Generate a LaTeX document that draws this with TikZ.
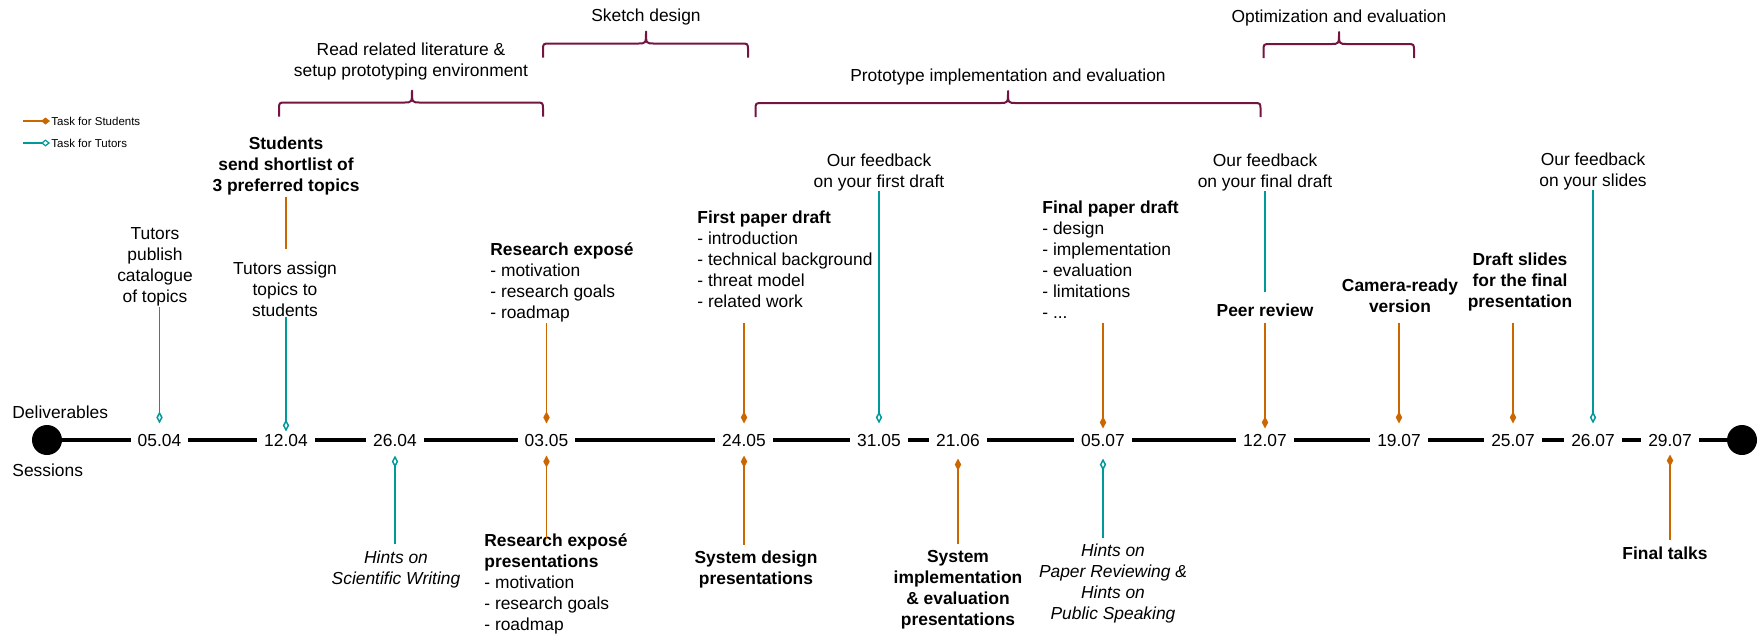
\documentclass[tikz,border=0pt]{standalone}
\usepackage{fontspec}
\setmainfont{Liberation Sans}
\usetikzlibrary{arrows.meta, positioning}

\definecolor{studentorange}{RGB}{204,102,0}
\definecolor{tutorteal}{RGB}{0,153,153}
\definecolor{phasemaroon}{RGB}{115,20,65}

\newcommand{\tlfont}{\fontsize{8.7}{10.5}\selectfont}

% curly brace over a phase: left x, right x, y of the bar, x of the tip
\newcommand{\phasebrace}[4]{%
  \draw[bracestyle] (#1,#3+14) -- (#1,#3+7) .. controls (#1,#3) .. (#1+7,#3)
    -- (#4-8,#3) .. controls (#4,#3) .. (#4,#3-12)
    .. controls (#4,#3) .. (#4+8,#3) -- (#2-7,#3) .. controls (#2,#3) .. (#2,#3+7) -- (#2,#3+14);
}

\tikzset{
  every node/.style={font=\tlfont, inner sep=3pt, yshift=-1pt},
  txt/.style={align=center},
  boldtxt/.style={align=center, font=\tlfont\bfseries},
  hinttxt/.style={align=center, font=\tlfont\itshape},
  listtxt/.style={align=left, anchor=west},
  datebox/.style={fill=white, inner xsep=3.5pt, inner ysep=1pt},
  dot/.style={circle, fill=black, minimum size=15pt, inner sep=0pt},
  timebar/.style={line width=2.4pt, black},
  studentline/.style={draw=studentorange, line width=0.75pt},
  tutorline/.style={draw=tutorteal, line width=0.75pt},
  smark/.style={-{Diamond[length=6pt,width=3.2pt]}},
  tmark/.style={-{Diamond[open,length=6pt,width=3.2pt]}},
  bracestyle/.style={draw=phasemaroon, line width=1pt, line join=round},
  legendtxt/.style={font=\fontsize{5.75}{7}\selectfont, anchor=west, inner sep=0.5pt}
}

\begin{document}
\begin{tikzpicture}[x=0.5pt, y=-0.5pt]
\useasboundingbox (0,0) rectangle (1760,634);

% legend
\node[legendtxt] (lgstud) at (50,119) {Task for Students};
\node[legendtxt] (lgtut) at (50,141) {Task for Tutors};
\draw[studentline, line width=0.6pt, -{Diamond[length=4.5pt,width=3.5pt]}] ([xshift=-13.5pt]lgstud.west) -- (lgstud.west);
\draw[tutorline, line width=0.6pt, -{Diamond[open,length=4.5pt,width=3.5pt]}] ([xshift=-13.5pt]lgtut.west) -- (lgtut.west);

% phases
\node[txt] (readlit) at (411,59) {Read related literature \&\\setup prototyping environment};
\node[txt] (sketch) at (646,15) {Sketch design};
\node[txt] (proto) at (1008,75) {Prototype implementation and evaluation};
\node[txt] (optim) at (1339,16) {Optimization and evaluation};
\phasebrace{279}{543}{102.5}{412}
\phasebrace{543}{748}{43.5}{646}
\phasebrace{755.5}{1260.5}{103}{1008}
\phasebrace{1263.5}{1414}{44}{1339}

% timeline
\node[dot] (startdot) at (47,438) {};
\node[dot] (enddot) at (1742,438) {};
\draw[timebar] (startdot) -- (enddot);
\node[datebox] (d0504) at (159.5,438) {05.04};
\node[datebox] (d1204) at (286,438) {12.04};
\node[datebox] (d2604) at (395,438) {26.04};
\node[datebox] (d0305) at (546.5,438) {03.05};
\node[datebox] (d2405) at (744,438) {24.05};
\node[datebox] (d3105) at (879,438) {31.05};
\node[datebox] (d2106) at (958,438) {21.06};
\node[datebox] (d0507) at (1103,438) {05.07};
\node[datebox] (d1207) at (1265,438) {12.07};
\node[datebox] (d1907) at (1399,438) {19.07};
\node[datebox] (d2507) at (1513,438) {25.07};
\node[datebox] (d2607) at (1593,438) {26.07};
\node[datebox] (d2907) at (1670,438) {29.07};
\node[anchor=west] (deliv) at (6,410) {Deliverables};
\node[anchor=west] (sess) at (6,468) {Sessions};

% deliverables
\node[txt] (publish) at (155,265) {Tutors\\publish\\catalogue\\of topics};
\node[txt] (assign) at (285,287.5) {Tutors assign\\topics to\\students};
\node[boldtxt] (shortlist) at (286,164) {Students\\send shortlist of\\3 preferred topics};
\node[listtxt] (expose) at (484,280.5) {\textbf{Research exposé}\\- motivation\\- research goals\\- roadmap};
\node[listtxt] (firstdraft) at (691,257.5) {\textbf{First paper draft}\\- introduction\\- technical background\\- threat model\\- related work};
\node[txt] (fbfirst) at (879,170) {Our feedback\\on your first draft};
\node[listtxt] (finaldraft) at (1036,258) {\textbf{Final paper draft}\\- design\\- implementation\\- evaluation\\- limitations\\- ...};
\node[txt] (fbfinal) at (1265,170) {Our feedback\\on your final draft};
\node[boldtxt] (peer) at (1265,308) {Peer review};
\node[boldtxt] (camera) at (1400,294) {Camera-ready\\version};
\node[boldtxt] (slides) at (1520,280) {Draft slides\\for the final\\presentation};
\node[txt] (fbslides) at (1593,169) {Our feedback\\on your slides};
\coordinate (stemtop) at (0,321);

\draw[tutorline, tmark, shorten <=-3pt] (d0504 |- publish.south) -- ([yshift=4pt]d0504.north);
\draw[studentline, shorten <=-2.25pt, shorten >=3.5pt] (shortlist.south) -- (shortlist.south |- assign.north);
\draw[tutorline, tmark, shorten <=-3pt] (d1204 |- assign.south) -- (d1204.north);
\draw[studentline, smark] (d0305 |- stemtop) -- ([yshift=4pt]d0305.north);
\draw[studentline, smark] (d2405 |- stemtop) -- ([yshift=4pt]d2405.north);
\draw[tutorline, tmark, shorten <=-3pt] (d3105 |- fbfirst.south) -- ([yshift=4pt]d3105.north);
\draw[studentline, smark] (d0507 |- stemtop) -- ([yshift=1.5pt]d0507.north);
\draw[tutorline, shorten <=-3pt, shorten >=2.5pt] (d1207 |- fbfinal.south) -- (d1207 |- peer.north);
\draw[studentline, smark] (d1207 |- peer.south) -- ([yshift=1.5pt]d1207.north);
\draw[studentline, smark] (d1907 |- stemtop) -- ([yshift=4pt]d1907.north);
\draw[studentline, smark] (d2507 |- stemtop) -- ([yshift=4pt]d2507.north);
\draw[tutorline, tmark, shorten <=-3pt] (d2607 |- fbslides.south) -- ([yshift=4pt]d2607.north);

% sessions
\node[hinttxt] (hintswriting) at (396,567) {Hints on\\Scientific Writing};
\node[listtxt] (exposepres) at (478,582) {\textbf{Research exposé}\\\textbf{presentations}\\- motivation\\- research goals\\- roadmap};
\node[boldtxt] (sysdesign) at (756,567.5) {System design\\presentations};
\node[boldtxt] (sysimpl) at (958,588) {System\\implementation\\\& evaluation\\presentations};
\node[hinttxt] (hintsreview) at (1113,581.5) {Hints on\\Paper Reviewing \&\\Hints on\\Public Speaking};
\node[boldtxt] (talks) at (1665,551) {Final talks};

\draw[tutorline, tmark] (d2604 |- hintswriting.north) -- ([yshift=-3.5pt]d2604.south);
\draw[studentline, smark, shorten <=-6pt] (d0305 |- exposepres.north) -- ([yshift=-3.5pt]d0305.south);
\draw[studentline, smark] (d2405 |- sysdesign.north) -- ([yshift=-3.5pt]d2405.south);
\draw[studentline, smark] (d2106 |- sysimpl.north) -- ([yshift=-5pt]d2106.south);
\draw[tutorline, tmark] (d0507 |- hintsreview.north) -- ([yshift=-5pt]d0507.south);
\draw[studentline, smark] (d2907 |- talks.north) -- ([yshift=-3pt]d2907.south);

\end{tikzpicture}
\end{document}
